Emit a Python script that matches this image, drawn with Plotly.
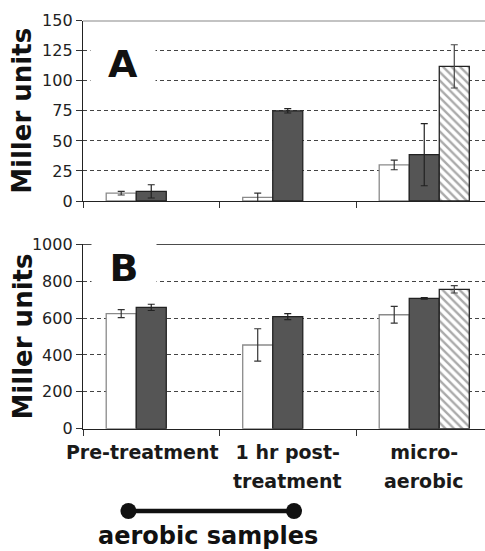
import plotly.graph_objects as go

categories = ["Pre-treatment", "1 hr post-treatment", "micro-aerobic"]
tick_line1 = ["<b>Pre-treatment</b>\u00a0\u00a0\u00a0", "<b>1 hr post-</b>", "<b>micro-</b>"]
tick_line2 = [None, "treatment", "aerobic"]

# Panel A
a_white = [6.5, 3.0, 30.0]
a_white_err = [1.5, 3.5, 4.0]
a_dark = [8.0, 75.0, 38.5]
a_dark_err = [5.5, 1.8, 25.8]
a_hatch = [None, None, 112.0]
a_hatch_err = [0, 0, 18.0]

# Panel B
b_white = [624, 454, 618]
b_white_err = [22, 88, 45]
b_dark = [658, 608, 707]
b_dark_err = [17, 16, 4]
b_hatch = [None, None, 756]
b_hatch_err = [0, 0, 20]

FONT = "DejaVu Sans"
W, H = 485, 551
L = 83

fig = go.Figure()

def add_bars(xa, ya, white, werr, dark, derr, hatch, herr):
    fig.add_trace(go.Bar(x=categories, y=white, xaxis=xa, yaxis=ya,
                         marker=dict(color="white", line=dict(color="#8a8a8a", width=1.3)),
                         error_y=dict(type="data", array=werr, color="#333", thickness=1.2, width=3.5),
                         showlegend=False))
    fig.add_trace(go.Bar(x=categories, y=dark, xaxis=xa, yaxis=ya,
                         marker=dict(color="#555555", line=dict(color="#222", width=1.3)),
                         error_y=dict(type="data", array=derr, color="#222", thickness=1.2, width=3.5),
                         showlegend=False))
    fig.add_trace(go.Bar(x=categories, y=hatch, xaxis=xa, yaxis=ya,
                         marker=dict(color="white", line=dict(color="#222", width=1.3),
                                     pattern=dict(shape="\\", fgcolor="#555", bgcolor="white",
                                                  size=6, solidity=0.4)),
                         error_y=dict(type="data", array=herr, color="#444", thickness=1.2, width=3.5),
                         showlegend=False))

add_bars("x", "y", a_white, a_white_err, a_dark, a_dark_err, a_hatch, a_hatch_err)
add_bars("x2", "y2", b_white, b_white_err, b_dark, b_dark_err, b_hatch, b_hatch_err)

xr = [-0.5, -0.5 + (W - L) / 136.5]

def pf(ypx):
    return (H - ypx) / H

common_x = dict(range=xr, tickson="boundaries", ticks="outside", ticklen=6,
                tickcolor="#333", showline=True, linecolor="#222", linewidth=1.2,
                showgrid=False, zeroline=False, fixedrange=True, automargin=False)
common_y = dict(ticks="outside", ticklen=6, tickcolor="#333", showline=True,
                linecolor="#222", linewidth=1.3, showgrid=True, gridcolor="#444",
                griddash="4px,3px", gridwidth=1, zeroline=False, automargin=False,
                fixedrange=True,
                tickfont=dict(family=FONT, size=16, color="#222"))

fig.update_layout(
    width=W, height=H,
    margin=dict(l=L, r=0, t=0, b=0, autoexpand=False),
    paper_bgcolor="white", plot_bgcolor="white",
    barmode="group", bargap=0.34, bargroupgap=0,
    xaxis=dict(domain=[0, 1], anchor="y", showticklabels=False, **common_x),
    yaxis=dict(domain=[pf(201), pf(20.7)], anchor="x", range=[0, 150], dtick=25, **common_y),
    xaxis2=dict(domain=[0, 1], anchor="y2", tickmode="array",
                tickvals=categories, ticktext=tick_line1, tickangle=0,
                ticklabelstandoff=6,
                tickfont=dict(family=FONT, size=19, color="#1a1a1a"),
                **common_x),
    yaxis2=dict(domain=[pf(428.7), pf(244.3)], anchor="x2", range=[0, 1000], dtick=200, **common_y),
)

# second lines of the category labels
for cat, txt in zip(categories, tick_line2):
    if txt:
        fig.add_annotation(text="<b>" + txt + "</b>", xref="x2", yref="paper",
                           x=cat, y=pf(493), xanchor="center", yanchor="bottom",
                           showarrow=False, borderpad=0,
                           font=dict(family=FONT, size=19, color="#1a1a1a"))

# solid top lines
fig.add_shape(type="line", xref="x domain", yref="y", x0=0, x1=1, y0=150, y1=150,
              line=dict(color="#111", width=1.3), layer="above")
fig.add_shape(type="line", xref="x2 domain", yref="y2", x0=0, x1=1, y0=1000, y1=1000,
              line=dict(color="#111", width=1.3), layer="above")

# panel letters with white boxes
fig.add_annotation(text="<b>A</b>", xref="paper", yref="paper",
                   x=(123 - L) / (W - L), y=pf(64), xanchor="center", yanchor="middle",
                   showarrow=False, font=dict(family=FONT, size=38, color="#111"),
                   bgcolor="white", width=62, height=42)
fig.add_annotation(text="<b>B</b>", xref="paper", yref="paper",
                   x=(124 - L) / (W - L), y=pf(268), xanchor="center", yanchor="middle",
                   showarrow=False, font=dict(family=FONT, size=38, color="#111"),
                   bgcolor="white", width=62, height=64)

# y titles
for yd in ["y domain", "y2 domain"]:
    fig.add_annotation(text="<b>Miller units</b>", xref="paper", yref=yd,
                       x=(22 - L) / (W - L), y=0.5, xanchor="center", yanchor="middle",
                       textangle=-90, showarrow=False,
                       font=dict(family=FONT, size=26, color="#111"))

# aerobic samples bracket
by = pf(511)
fig.add_shape(type="line", xref="x2", yref="paper", x0=-0.167, x1=1.046, y0=by, y1=by,
              line=dict(color="#111", width=4.5))
for xc in [-0.167, 1.046]:
    fig.add_shape(type="circle", xref="x2", yref="paper", xsizemode="pixel", ysizemode="pixel",
                  xanchor=xc, yanchor=by, x0=-8, x1=8, y0=-8, y1=8,
                  fillcolor="#111", line=dict(color="#111", width=0))
fig.add_annotation(text="<b>aerobic samples</b>", xref="paper", yref="paper",
                   x=(208 - L) / (W - L), y=0, xanchor="center", yanchor="bottom",
                   showarrow=False, borderpad=0,
                   font=dict(family=FONT, size=24, color="#111"))

fig.write_html("out.html", config={"displayModeBar": False},
               post_script="document.body.style.margin='0';document.body.style.overflow='hidden';")
